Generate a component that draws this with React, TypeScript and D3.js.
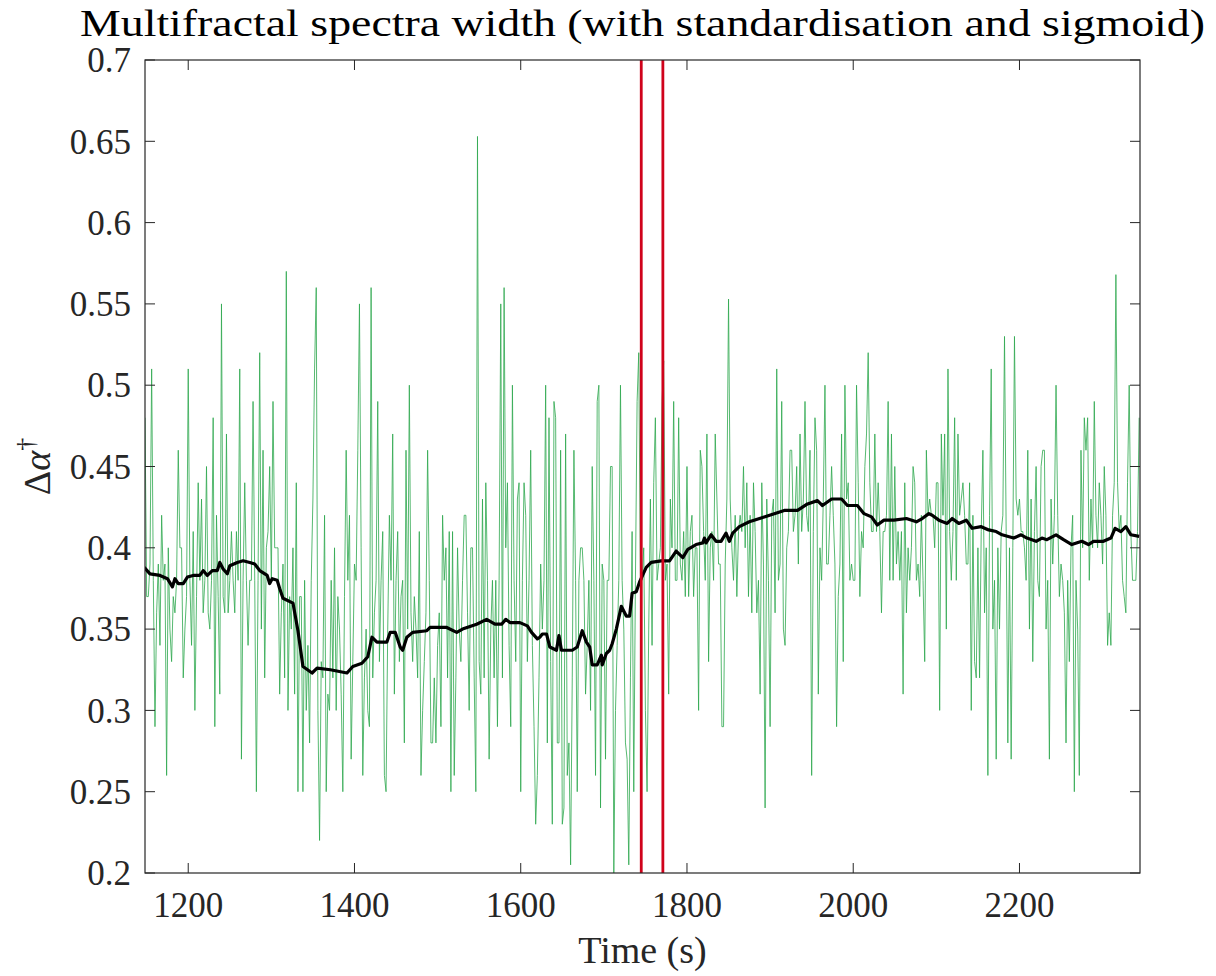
import React from "react";
import * as d3 from "d3";

// ---------- data ----------
const GREEN_T0 = 1148;
const GREEN_STEP = 2;
const greenSeg1 = [
  0.48, 0.37, 0.37, 0.39, 0.51, 0.38, 0.29, 0.36, 0.39, 0.34,
  0.42, 0.38, 0.39, 0.26, 0.4, 0.35, 0.33, 0.37, 0.36, 0.38,
  0.46, 0.4, 0.4, 0.32, 0.35, 0.37, 0.51, 0.38, 0.34, 0.41,
  0.3, 0.37, 0.44, 0.38, 0.43, 0.36, 0.38, 0.45, 0.36, 0.35,
  0.38, 0.48, 0.29, 0.42, 0.37, 0.31, 0.55, 0.37, 0.36, 0.47,
  0.36, 0.38, 0.41, 0.38, 0.36, 0.41, 0.38, 0.51, 0.27, 0.38,
  0.44, 0.38, 0.34, 0.38, 0.38, 0.49, 0.38, 0.25, 0.38, 0.52,
  0.35, 0.46, 0.32, 0.4, 0.41,
];
const greenSeg2 = [
  0.45, 0.38, 0.49, 0.4, 0.4, 0.4, 0.31, 0.36, 0.39, 0.32,
  0.57, 0.3, 0.37, 0.35, 0.4, 0.31, 0.44, 0.25, 0.37, 0.37,
  0.25, 0.38, 0.3, 0.34, 0.28, 0.38, 0.43, 0.51, 0.56, 0.3,
  0.22, 0.33, 0.32, 0.42, 0.25, 0.31, 0.3, 0.38, 0.32, 0.4,
  0.3, 0.37, 0.35, 0.31, 0.25, 0.37, 0.46, 0.38, 0.42, 0.27,
  0.33, 0.39, 0.38, 0.46, 0.55, 0.4, 0.26, 0.32, 0.35, 0.3,
  0.29, 0.56, 0.32, 0.36, 0.38, 0.49, 0.33, 0.38, 0.41, 0.26,
  0.25, 0.35, 0.42, 0.38, 0.47,
];
const greenSeg3 = [
  0.31, 0.38, 0.41, 0.33, 0.37, 0.38, 0.28, 0.46, 0.35, 0.5,
  0.36, 0.33, 0.37, 0.35, 0.32, 0.41, 0.26, 0.3, 0.33, 0.36,
  0.46, 0.38, 0.28, 0.28, 0.32, 0.28, 0.34, 0.36, 0.29, 0.42,
  0.38, 0.4, 0.32, 0.41, 0.25, 0.41, 0.26, 0.32, 0.4, 0.35,
  0.33, 0.38, 0.42, 0.42, 0.36, 0.3, 0.4, 0.4, 0.32, 0.25,
  0.653, 0.33, 0.31, 0.43, 0.32, 0.44, 0.38, 0.27, 0.35, 0.38,
  0.32, 0.38, 0.29, 0.38, 0.55, 0.32, 0.56, 0.4, 0.44, 0.34,
  0.29, 0.5, 0.38, 0.33, 0.43,
];
const greenSeg4 = [
  0.44, 0.25, 0.38, 0.44, 0.42, 0.33, 0.38, 0.46, 0.34, 0.29,
  0.23, 0.26, 0.32, 0.39, 0.35, 0.38, 0.5, 0.28, 0.48, 0.33,
  0.23, 0.49, 0.48, 0.28, 0.28, 0.46, 0.23, 0.24, 0.47, 0.26,
  0.28, 0.205, 0.32, 0.46, 0.38, 0.25, 0.38, 0.4, 0.4, 0.38,
  0.31, 0.34, 0.38, 0.3, 0.45, 0.38, 0.26, 0.49, 0.5, 0.24,
  0.39, 0.38, 0.27, 0.38, 0.38, 0.45, 0.45, 0.2, 0.3, 0.34,
  0.38, 0.5, 0.38, 0.35, 0.28, 0.27, 0.205, 0.32, 0.41, 0.25,
  0.38, 0.49, 0.52, 0.38, 0.38,
];
const greenSeg5 = [
  0.4, 0.3, 0.25, 0.35, 0.43, 0.34, 0.44, 0.48, 0.38, 0.39,
  0.4, 0.49, 0.515, 0.38, 0.39, 0.31, 0.43, 0.4, 0.49, 0.38,
  0.38, 0.48, 0.39, 0.38, 0.41, 0.37, 0.45, 0.37, 0.41, 0.42,
  0.37, 0.4, 0.4, 0.3, 0.46, 0.45, 0.41, 0.38, 0.47, 0.33,
  0.4, 0.41, 0.38, 0.47, 0.43, 0.39, 0.39, 0.29, 0.29, 0.39,
  0.43, 0.553, 0.43, 0.4, 0.38, 0.42, 0.37, 0.41, 0.42, 0.41,
  0.45, 0.4, 0.44, 0.37, 0.42, 0.36, 0.44, 0.41, 0.36, 0.38,
  0.31, 0.44, 0.39, 0.24, 0.43,
];
const greenSeg6 = [
  0.38, 0.29, 0.42, 0.43, 0.36, 0.51, 0.38, 0.39, 0.49, 0.35,
  0.34, 0.4, 0.41, 0.46, 0.46, 0.41, 0.42, 0.45, 0.39, 0.47,
  0.41, 0.43, 0.49, 0.42, 0.41, 0.46, 0.26, 0.41, 0.48, 0.46,
  0.31, 0.4, 0.38, 0.43, 0.5, 0.39, 0.39, 0.42, 0.45, 0.42,
  0.39, 0.29, 0.37, 0.39, 0.47, 0.33, 0.5, 0.43, 0.44, 0.38,
  0.39, 0.38, 0.38, 0.5, 0.44, 0.37, 0.41, 0.4, 0.45, 0.47,
  0.52, 0.44, 0.41, 0.41, 0.47, 0.41, 0.44, 0.41, 0.36, 0.41,
  0.41, 0.42, 0.49, 0.38, 0.47,
];
const greenSeg7 = [
  0.38, 0.45, 0.39, 0.41, 0.38, 0.41, 0.31, 0.44, 0.36, 0.4,
  0.38, 0.4, 0.45, 0.44, 0.38, 0.39, 0.37, 0.42, 0.38, 0.33,
  0.46, 0.42, 0.43, 0.42, 0.42, 0.4, 0.44, 0.44, 0.3, 0.47,
  0.42, 0.47, 0.35, 0.51, 0.41, 0.38, 0.41, 0.48, 0.38, 0.47,
  0.42, 0.43, 0.44, 0.42, 0.39, 0.39, 0.44, 0.3, 0.42, 0.33,
  0.32, 0.4, 0.32, 0.41, 0.46, 0.36, 0.4, 0.26, 0.42, 0.51,
  0.35, 0.38, 0.27, 0.4, 0.35, 0.41, 0.42, 0.53, 0.41, 0.28,
  0.4, 0.27, 0.4, 0.53, 0.43,
];
const greenSeg8 = [
  0.42, 0.43, 0.41, 0.41, 0.4, 0.38, 0.46, 0.35, 0.43, 0.33,
  0.41, 0.45, 0.38, 0.37, 0.45, 0.46, 0.46, 0.35, 0.38, 0.27,
  0.43, 0.39, 0.42, 0.5, 0.42, 0.37, 0.39, 0.38, 0.36, 0.28,
  0.38, 0.33, 0.4, 0.42, 0.25, 0.38, 0.35, 0.26, 0.46, 0.4,
  0.48, 0.46, 0.48, 0.38, 0.43, 0.4, 0.49, 0.42, 0.4, 0.44,
  0.42, 0.39, 0.45, 0.42, 0.34, 0.36, 0.34, 0.42, 0.44, 0.568,
  0.44, 0.41, 0.42, 0.38, 0.37, 0.36, 0.44, 0.5, 0.41, 0.38,
  0.38, 0.38, 0.41, 0.48,
];

const blackT = [
  1147, 1154, 1166, 1175, 1181, 1184, 1188, 1194, 1199, 1206, 1214, 1218, 1223, 1229, 1235,
  1238, 1242, 1247, 1250, 1259, 1266, 1274, 1280, 1286, 1295, 1298, 1301, 1307, 1310, 1314,
  1326, 1332, 1338, 1349, 1355, 1371, 1391, 1398, 1409, 1416, 1421, 1427, 1439, 1443, 1449,
  1455, 1458, 1463, 1470, 1487, 1491, 1511, 1523, 1530, 1547, 1559, 1569, 1577, 1582, 1587,
  1599, 1608, 1613, 1620, 1623, 1626, 1631, 1635, 1643, 1646, 1649, 1655, 1662, 1668, 1674,
  1679, 1683, 1686, 1692, 1697, 1698, 1703, 1707, 1710, 1715, 1721, 1727, 1731, 1734, 1739,
  1743, 1751, 1757, 1769, 1779, 1787, 1795, 1801, 1811, 1819, 1821, 1823, 1829, 1835, 1841,
  1847, 1851, 1855, 1863, 1875, 1893, 1917, 1933, 1945, 1957, 1963, 1974, 1986, 1993, 2005,
  2013, 2022, 2029, 2037, 2049, 2064, 2076, 2083, 2091, 2095, 2103, 2113, 2119, 2127, 2136,
  2143, 2154, 2163, 2172, 2179, 2193, 2202, 2209, 2220, 2227, 2233, 2244, 2253, 2263, 2275,
  2283, 2289, 2301, 2310, 2315, 2322, 2328, 2334, 2344,
];
const blackV = [
  0.388, 0.384, 0.383, 0.381, 0.376, 0.381, 0.378, 0.378, 0.382, 0.383, 0.383, 0.386, 0.383, 0.386, 0.386,
  0.391, 0.387, 0.384, 0.389, 0.391, 0.392, 0.391, 0.39, 0.386, 0.383, 0.378, 0.381, 0.38, 0.375, 0.369,
  0.366, 0.349, 0.327, 0.323, 0.326, 0.325, 0.323, 0.327, 0.329, 0.333, 0.345, 0.342, 0.342, 0.348, 0.348,
  0.339, 0.337, 0.345, 0.348, 0.349, 0.351, 0.351, 0.348, 0.35, 0.353, 0.356, 0.353, 0.353, 0.356, 0.354,
  0.354, 0.352, 0.348, 0.344, 0.345, 0.347, 0.347, 0.339, 0.337, 0.346, 0.337, 0.337, 0.337, 0.339, 0.349,
  0.342, 0.339, 0.328, 0.328, 0.334, 0.328, 0.335, 0.337, 0.341, 0.35, 0.364, 0.358, 0.358, 0.372, 0.373,
  0.379, 0.388, 0.391, 0.392, 0.392, 0.398, 0.394, 0.399, 0.402, 0.403, 0.406, 0.403, 0.408, 0.404, 0.404,
  0.409, 0.404, 0.409, 0.413, 0.416, 0.419, 0.423, 0.423, 0.427, 0.429, 0.426, 0.43, 0.43, 0.426, 0.426,
  0.421, 0.419, 0.414, 0.417, 0.417, 0.418, 0.416, 0.418, 0.421, 0.42, 0.417, 0.415, 0.418, 0.415, 0.417,
  0.412, 0.413, 0.411, 0.41, 0.408, 0.406, 0.408, 0.406, 0.404, 0.406, 0.405, 0.408, 0.405, 0.402, 0.404,
  0.402, 0.404, 0.404, 0.406, 0.412, 0.41, 0.413, 0.408, 0.407,
];

const redLineTimes = [1745, 1771];
const xTicks = [1200, 1400, 1600, 1800, 2000, 2200];
const yTicks = [0.2, 0.25, 0.3, 0.35, 0.4, 0.45, 0.5, 0.55, 0.6, 0.65, 0.7];
const yTickLabels = ["0.2", "0.25", "0.3", "0.35", "0.4", "0.45", "0.5", "0.55", "0.6", "0.65", "0.7"];
const TITLE = "Multifractal spectra width (with standardisation and sigmoid)";
const XLABEL = "Time (s)";

// ---------- layout ----------
const W = 1216;
const H = 976;
const L = 145, R = 1140, T = 60, B = 873;
const FONT = "'Liberation Serif', 'Times New Roman', serif";
const AX = "#262626";

export default function App() {
  const greenValues = [
    ...greenSeg1, ...greenSeg2, ...greenSeg3, ...greenSeg4,
    ...greenSeg5, ...greenSeg6, ...greenSeg7, ...greenSeg8,
  ];
  const x = d3.scaleLinear().domain([1148, 2345]).range([L, R]);
  const y = d3.scaleLinear().domain([0.2, 0.7]).range([B, T]);

  const greenLine = d3
    .line<number>()
    .x((_, i) => x(GREEN_T0 + i * GREEN_STEP))
    .y((d) => y(d));
  const blackLine = d3
    .line<number>()
    .x((_, i) => x(blackT[i]))
    .y((d) => y(d));

  const tickLen = 10;

  return (
    <svg
      width={W}
      height={H}
      style={{ position: "absolute", left: 0, top: 0, background: "#fff" }}
      fontFamily={FONT}
    >
      <rect x={0} y={0} width={W} height={H} fill="#fff" />
      <defs>
        <clipPath id="plotclip">
          <rect x={L} y={T} width={R - L} height={B - T} />
        </clipPath>
      </defs>

      {/* title */}
      <text
        x={(L + R) / 2}
        y={36}
        textAnchor="middle"
        fontSize={37}
        fill="#000"
        textLength={1125}
        lengthAdjust="spacingAndGlyphs"
      >
        {TITLE}
      </text>

      {/* data */}
      <g clipPath="url(#plotclip)">
        <path d={greenLine(greenValues) || ""} fill="none" stroke="#2fa84f" strokeWidth={0.9} strokeOpacity={0.9} />
        <path d={blackLine(blackV) || ""} fill="none" stroke="#000" strokeWidth={3.2} strokeLinejoin="round" />
        {redLineTimes.map((t, i) => (
          <line key={i} x1={x(t)} x2={x(t)} y1={T} y2={B} stroke="#d0021b" strokeWidth={2.8} />
        ))}
      </g>

      {/* box */}
      <rect x={L} y={T} width={R - L} height={B - T} fill="none" stroke={AX} strokeWidth={1.2} />

      {/* x ticks */}
      {xTicks.map((t) => (
        <g key={"xt" + t}>
          <line x1={x(t)} x2={x(t)} y1={B} y2={B - tickLen} stroke={AX} strokeWidth={1} />
          <line x1={x(t)} x2={x(t)} y1={T} y2={T + tickLen} stroke={AX} strokeWidth={1} />
          <text x={x(t)} y={917} textAnchor="middle" fontSize={35} fill="#262626">
            {t}
          </text>
        </g>
      ))}

      {/* y ticks */}
      {yTicks.map((v, i) => (
        <g key={"yt" + i}>
          <line x1={L} x2={L + tickLen} y1={y(v)} y2={y(v)} stroke={AX} strokeWidth={1} />
          <line x1={R} x2={R - tickLen} y1={y(v)} y2={y(v)} stroke={AX} strokeWidth={1} />
          <text x={131} y={y(v)} dy="0.35em" textAnchor="end" fontSize={35} fill="#262626">
            {yTickLabels[i]}
          </text>
        </g>
      ))}

      {/* x label */}
      <text x={(L + R) / 2} y={963} textAnchor="middle" fontSize={38} fill="#262626">
        {XLABEL}
      </text>

      {/* y label */}
      <text
        transform={`translate(50, ${(T + B) / 2}) rotate(-90)`}
        textAnchor="middle"
        fontSize={38}
        fill="#262626"
      >
        <tspan>Δ</tspan>
        <tspan fontStyle="italic">α</tspan>
        <tspan fontSize={26} dy={-16}>†</tspan>
      </text>
    </svg>
  );
}
